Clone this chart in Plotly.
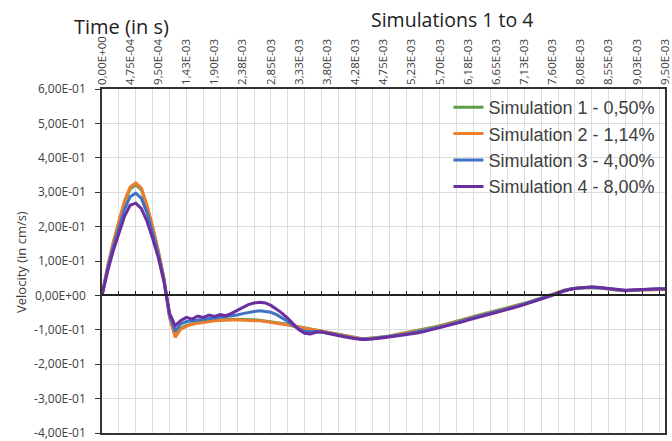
import numpy as np
import plotly.graph_objects as go

# ---------------- data ----------------
time_s = np.linspace(0, 9.5e-3, 101)

sim1 = [0.000, 0.083, 0.152, 0.212, 0.270, 0.310, 0.321, 0.307, 0.258, 0.197,
        0.128, 0.049, -0.062, -0.117, -0.095, -0.087, -0.082, -0.079, -0.076, -0.074,
        -0.072, -0.071, -0.070, -0.069, -0.069, -0.070, -0.070, -0.071, -0.072, -0.074,
        -0.076, -0.078, -0.081, -0.084, -0.088, -0.091, -0.095, -0.098, -0.101, -0.104,
        -0.107, -0.110, -0.113, -0.117, -0.120, -0.123, -0.125, -0.125, -0.124, -0.122,
        -0.120, -0.118, -0.115, -0.112, -0.109, -0.106, -0.102, -0.099, -0.095, -0.092,
        -0.088, -0.084, -0.079, -0.075, -0.070, -0.066, -0.061, -0.057, -0.053, -0.049,
        -0.045, -0.041, -0.037, -0.033, -0.028, -0.023, -0.018, -0.013, -0.008, -0.003,
        0.002, 0.009, 0.015, 0.019, 0.021, 0.022, 0.023, 0.024, 0.023, 0.021,
        0.018, 0.016, 0.014, 0.014, 0.015, 0.016, 0.017, 0.017, 0.017, 0.018,
        0.018]

sim2 = [0.000, 0.085, 0.155, 0.215, 0.275, 0.315, 0.327, 0.312, 0.262, 0.200,
        0.130, 0.050, -0.065, -0.122, -0.098, -0.090, -0.084, -0.081, -0.078, -0.076,
        -0.074, -0.073, -0.072, -0.071, -0.071, -0.072, -0.072, -0.073, -0.074, -0.076,
        -0.078, -0.080, -0.083, -0.086, -0.089, -0.092, -0.096, -0.099, -0.102, -0.105,
        -0.108, -0.111, -0.114, -0.118, -0.121, -0.124, -0.126, -0.126, -0.125, -0.123,
        -0.121, -0.119, -0.116, -0.114, -0.111, -0.107, -0.104, -0.100, -0.097, -0.094,
        -0.090, -0.085, -0.081, -0.076, -0.072, -0.067, -0.063, -0.058, -0.054, -0.050,
        -0.046, -0.042, -0.038, -0.034, -0.029, -0.024, -0.019, -0.014, -0.009, -0.004,
        0.001, 0.008, 0.014, 0.018, 0.020, 0.022, 0.023, 0.024, 0.023, 0.021,
        0.019, 0.016, 0.014, 0.013, 0.014, 0.016, 0.017, 0.016, 0.017, 0.018,
        0.017]

sim3 = [0.000, 0.078, 0.142, 0.197, 0.250, 0.287, 0.297, 0.282, 0.240, 0.182,
        0.120, 0.045, -0.058, -0.104, -0.083, -0.076, -0.074, -0.071, -0.069, -0.067,
        -0.066, -0.064, -0.063, -0.061, -0.057, -0.053, -0.049, -0.047, -0.045, -0.046,
        -0.049, -0.056, -0.065, -0.076, -0.088, -0.098, -0.104, -0.106, -0.105, -0.106,
        -0.109, -0.112, -0.116, -0.119, -0.122, -0.125, -0.127, -0.127, -0.126, -0.124,
        -0.122, -0.120, -0.117, -0.115, -0.112, -0.109, -0.106, -0.103, -0.099, -0.096,
        -0.092, -0.088, -0.083, -0.078, -0.074, -0.069, -0.065, -0.060, -0.056, -0.052,
        -0.048, -0.044, -0.040, -0.035, -0.030, -0.025, -0.020, -0.015, -0.010, -0.005,
        0.000, 0.007, 0.013, 0.018, 0.020, 0.022, 0.023, 0.023, 0.023, 0.021,
        0.019, 0.017, 0.015, 0.014, 0.015, 0.016, 0.018, 0.017, 0.018, 0.019,
        0.018]

sim4 = [0.000, 0.070, 0.130, 0.182, 0.230, 0.262, 0.268, 0.252, 0.215, 0.165,
        0.110, 0.040, -0.052, -0.088, -0.073, -0.064, -0.069, -0.060, -0.064, -0.057,
        -0.061, -0.056, -0.059, -0.052, -0.044, -0.035, -0.027, -0.022, -0.020, -0.022,
        -0.029, -0.040, -0.052, -0.067, -0.085, -0.100, -0.110, -0.112, -0.107, -0.106,
        -0.110, -0.114, -0.117, -0.120, -0.123, -0.126, -0.128, -0.128, -0.127, -0.125,
        -0.123, -0.121, -0.119, -0.116, -0.114, -0.112, -0.109, -0.106, -0.102, -0.099,
        -0.095, -0.091, -0.086, -0.081, -0.077, -0.072, -0.067, -0.063, -0.058, -0.054,
        -0.050, -0.046, -0.042, -0.037, -0.032, -0.027, -0.022, -0.017, -0.011, -0.006,
        0.000, 0.007, 0.013, 0.017, 0.020, 0.022, 0.024, 0.025, 0.024, 0.022,
        0.019, 0.017, 0.015, 0.015, 0.016, 0.017, 0.018, 0.018, 0.019, 0.019,
        0.019]

series_names = ["Simulation 1 - 0,50%", "Simulation 2 - 1,14%",
                "Simulation 3 - 4,00%", "Simulation 4 - 8,00%"]
series_colors = ["#5E9E45", "#ED7D31", "#3F72C4", "#6A2E9E"]

x_tick_labels = ["0,00E+00", "4,75E-04", "9,50E-04", "1,43E-03", "1,90E-03",
                 "2,38E-03", "2,85E-03", "3,33E-03", "3,80E-03", "4,28E-03",
                 "4,75E-03", "5,23E-03", "5,70E-03", "6,18E-03", "6,65E-03",
                 "7,13E-03", "7,60E-03", "8,08E-03", "8,55E-03", "9,03E-03",
                 "9,50E-03"]
y_tick_values = [-0.4, -0.3, -0.2, -0.1, 0.0, 0.1, 0.2, 0.3, 0.4, 0.5, 0.6]
y_tick_labels = ["-4,00E-01", "-3,00E-01", "-2,00E-01", "-1,00E-01", "0,00E+00",
                 "1,00E-01", "2,00E-01", "3,00E-01", "4,00E-01", "5,00E-01", "6,00E-01"]

# ---------------- figure ----------------
X_MAX = 9.5e-3
x_tick_values = [i * X_MAX / (len(x_tick_labels) - 1) for i in range(len(x_tick_labels))]
GRID_STEP = 2.85e-4

fig = go.Figure()

# helper trace on the zero-crossing axis (gridlines + axis line with tick marks)
fig.add_trace(go.Scatter(x=[0, X_MAX], y=[None, None], xaxis="x2", yaxis="y",
                         mode="lines", showlegend=False, hoverinfo="skip"))

for name, color, vals in zip(series_names, series_colors, [sim1, sim2, sim3, sim4]):
    fig.add_trace(go.Scatter(x=time_s, y=vals, mode="lines", name=name,
                             line=dict(color=color, width=3)))

FONT = "Open Sans, Liberation Sans, sans-serif"
L, T, R, B = 102, 89, 7, 8
PW, PH = 672 - L - R, 441 - T - B

fig.update_layout(
    width=672, height=441,
    margin=dict(l=L, r=R, t=T, b=B),
    paper_bgcolor="white", plot_bgcolor="white",
    xaxis=dict(
        side="top", range=[0, X_MAX], automargin=False, ticklabeloverflow="allow",
        tickmode="array", tickvals=x_tick_values, ticktext=x_tick_labels,
        tickangle=-90, tickfont=dict(family=FONT, size=11.5, color="#404040"), ticks="",
        showgrid=False, zeroline=False,
        showline=True, linecolor="#333333", linewidth=1.5, mirror=True,
    ),
    xaxis2=dict(
        overlaying="x", anchor="free", position=0.4, side="bottom", automargin=False,
        range=[0, X_MAX], tickmode="linear", tick0=0, dtick=GRID_STEP,
        showticklabels=False, ticks="inside", ticklen=4, tickcolor="#222222", tickwidth=1,
        showgrid=True, gridcolor="#dcdcdc", gridwidth=1,
        showline=True, linecolor="#222222", linewidth=1.5, zeroline=False,
    ),
    yaxis=dict(
        range=[-0.4, 0.6], automargin=False, ticklabeloverflow="allow",
        tickmode="array", tickvals=y_tick_values, ticktext=y_tick_labels,
        tickfont=dict(family=FONT, size=12, color="#404040"),
        ticks="outside", ticklen=5, tickcolor="#333333", ticklabelstandoff=7,
        showgrid=True, gridcolor="#dcdcdc", gridwidth=1, zeroline=False,
        showline=True, linecolor="#333333", linewidth=1.5, mirror=True,
    ),
    legend=dict(
        x=0.992, y=1.0, xanchor="right", yanchor="top",
        bgcolor="rgba(255,255,255,0)", borderwidth=0,
        font=dict(family="Liberation Sans, Arial, sans-serif", size=18, color="#404040"),
        tracegroupgap=0, itemwidth=30,
    ),
    showlegend=True,
    annotations=[
        dict(text="Time (in s)", xref="paper", yref="paper", x=(121 - L) / PW, y=(441 - B - 27) / PH,
             xanchor="center", yanchor="middle", showarrow=False,
             font=dict(family=FONT, size=20, color="#222222")),
        dict(text="Simulations 1 to 4", xref="paper", yref="paper", x=(452 - L) / PW, y=(441 - B - 19) / PH,
             xanchor="center", yanchor="middle", showarrow=False,
             font=dict(family=FONT, size=19.5, color="#222222")),
        dict(text="Velocity (in cm/s)", xref="paper", yref="paper", x=(21 - L) / PW, y=(441 - B - 262) / PH,
             xanchor="center", yanchor="middle", textangle=-90, showarrow=False,
             font=dict(family=FONT, size=13, color="#404040")),
    ],
)

fig.write_html("out.html", config={"displayModeBar": False},
               post_script="document.body.style.margin='0';")
